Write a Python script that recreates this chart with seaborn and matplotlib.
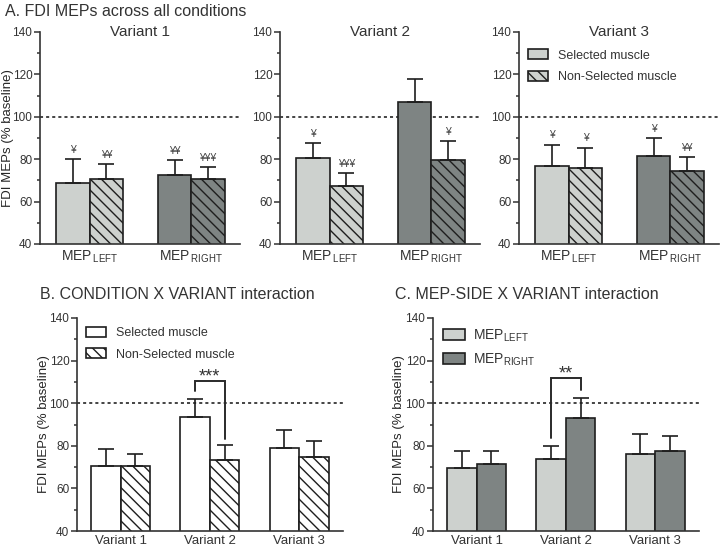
import numpy as np
import pandas as pd
import matplotlib
matplotlib.use('Agg')
import matplotlib.pyplot as plt
import seaborn as sns
from matplotlib.patches import Patch
from matplotlib.ticker import MultipleLocator

# --- data ---
variants = ['Variant 1', 'Variant 2', 'Variant 3']
sides = ['LEFT', 'RIGHT']
conditions = ['Selected muscle', 'Non-Selected muscle']

# panel A: per variant, [LEFT, RIGHT]
a_sel_mean = [[69.0, 72.7], [80.5, 107.0], [76.9, 81.4]]
a_sel_err = [[10.9, 7.0], [7.1, 10.9], [10.0, 8.4]]
a_non_mean = [[70.6, 70.6], [67.3, 79.6], [75.8, 74.2]]
a_non_err = [[7.2, 5.7], [6.0, 9.1], [9.7, 6.9]]
a_sel_marks = [['¥', '¥¥'], ['¥', ''], ['¥', '¥']]
a_non_marks = [['¥¥', '¥¥¥'], ['¥¥¥', '¥'], ['¥', '¥¥']]

# panel B: condition x variant
b_sel_mean = [70.5, 93.7, 78.8]
b_sel_err = [8.0, 8.5, 8.6]
b_non_mean = [70.4, 73.3, 74.7]
b_non_err = [5.6, 7.0, 7.4]
b_bracket = [105.5, 110.2, 83.0]   # left leg bottom, top, right leg bottom
b_star = '***'

# panel C: MEP side x variant
c_left_mean = [69.7, 73.8, 76.3]
c_left_err = [8.0, 6.2, 9.2]
c_right_mean = [71.4, 93.2, 77.5]
c_right_err = [6.1, 9.1, 7.2]
c_bracket = [83.5, 111.7, 106.2]
c_star = '**'

LIGHT = '#cdd1ce'
DARK = '#7e8483'
EDGE = '#1e1e1e'
TXT = '#333333'
HATCH = '\\\\\\'

sns.set_style('ticks')
plt.rcParams['font.family'] = ['Liberation Sans', 'DejaVu Sans']
plt.rcParams['mathtext.fontset'] = 'custom'
plt.rcParams['mathtext.rm'] = 'Liberation Sans'
plt.rcParams['hatch.linewidth'] = 1.0
plt.rcParams['axes.edgecolor'] = TXT
plt.rcParams['text.color'] = TXT
plt.rcParams['xtick.color'] = TXT
plt.rcParams['ytick.color'] = TXT

W, H = 722, 546
fig = plt.figure(figsize=(W / 100, H / 100), dpi=100)


def px_axes(x0, y0, x1, y1):
    return fig.add_axes([x0 / W, 1 - y1 / H, (x1 - x0) / W, (y1 - y0) / H])


def style_axes(ax):
    sns.despine(ax=ax)
    ax.set_ylim(40, 140)
    ax.set_yticks(range(40, 141, 20))
    ax.yaxis.set_minor_locator(MultipleLocator(10))
    ax.tick_params(axis='y', which='major', length=4, width=1.1, labelsize=8.5, pad=1.5)
    ax.tick_params(axis='y', which='minor', length=2.5, width=1.1)
    ax.tick_params(axis='x', length=0, labelsize=10, pad=3)
    for s in ('left', 'bottom'):
        ax.spines[s].set_linewidth(1.2)
    ax.axhline(100, color='#111111', ls=(0, (2, 2)), lw=1.1, zorder=1)
    ax.set_xlabel('')
    ax.set_ylabel('')


def upper_err(ax, bars, means, errs):
    xs = [b.get_x() + b.get_width() / 2 for b in bars]
    ax.errorbar(xs, means, yerr=[np.zeros(len(errs)), errs], fmt='none',
                ecolor=EDGE, elinewidth=1.2, capsize=6, capthick=1.2, zorder=3)
    return xs


LEG = dict(loc='upper left', frameon=False, fontsize=9, handlelength=1.6,
           handleheight=0.85, labelspacing=0.75, handletextpad=0.8, borderaxespad=0.3)
YLAB = 'FDI MEPs (% baseline)'

# ---------------- panel A ----------------
fig.text(5 / W, 1 - 16 / H, 'A. FDI MEPs across all conditions', fontsize=11.5,
         va='baseline', ha='left')
a_left = [40, 280, 519]
tick_names = ['MEP$_{\\,\\mathrm{LEFT}}$', 'MEP$_{\\,\\mathrm{RIGHT}}$']
for i, v in enumerate(variants):
    ax = px_axes(a_left[i], 32, a_left[i] + 200, 244)
    rows = []
    for j, s in enumerate(sides):
        rows.append({'side': s, 'cond': conditions[0], 'val': a_sel_mean[i][j]})
        rows.append({'side': s, 'cond': conditions[1], 'val': a_non_mean[i][j]})
    df = pd.DataFrame(rows)
    sns.barplot(data=df, x='side', y='val', hue='cond', hue_order=conditions,
                order=sides, width=0.66, errorbar=None, legend=False,
                edgecolor=EDGE, linewidth=1.2, ax=ax, zorder=2)
    bar_groups = list(ax.containers)
    fills = [LIGHT, DARK]
    for k, cont in enumerate(bar_groups):
        for j, bar in enumerate(cont):
            bar.set_facecolor(fills[j])
            bar.set_edgecolor(EDGE)
            if k == 1:
                bar.set_hatch(HATCH)
    for k, (means, errs, marks) in enumerate([(a_sel_mean[i], a_sel_err[i], a_sel_marks[i]),
                                              (a_non_mean[i], a_non_err[i], a_non_marks[i])]):
        xs = upper_err(ax, bar_groups[k], means, errs)
        for x, m, e, t in zip(xs, means, errs, marks):
            if t:
                ax.annotate(t, (x, m + e), xytext=(0, 3), textcoords='offset points',
                            ha='center', va='bottom', fontsize=7.5, color='#444444')
    style_axes(ax)
    ax.set_xlim(-0.49, 1.48)
    ax.set_xticks([0, 1])
    ax.set_xticklabels(tick_names)
    ax.text(0.5, 1.0, v, transform=ax.transAxes, ha='center', va='center', fontsize=11)
    if i == 0:
        ax.set_ylabel(YLAB, fontsize=9.5)
        ax.yaxis.set_label_coords(-0.13, 0.5)
    if i == 2:
        handles = [Patch(facecolor=LIGHT, edgecolor=EDGE, lw=1.2),
                   Patch(facecolor=LIGHT, edgecolor=EDGE, lw=1.2, hatch=HATCH)]
        ax.legend(handles, conditions, bbox_to_anchor=(0.0, 0.96), **LEG)


# ---------------- panels B & C ----------------
def interaction_panel(x0, x1, title, tx, names, means_list, errs_list, fills, hatches,
                      bracket, star, ylab_x):
    fig.text(tx / W, 1 - 299 / H, title, fontsize=11.5, va='baseline', ha='left')
    ax = px_axes(x0, 318, x1, 531)
    rows = []
    for n, means in zip(names, means_list):
        for v, m in zip(variants, means):
            rows.append({'variant': v, 'group': n, 'val': m})
    df = pd.DataFrame(rows)
    sns.barplot(data=df, x='variant', y='val', hue='group', hue_order=names,
                order=variants, width=0.66, errorbar=None, legend=False,
                edgecolor=EDGE, linewidth=1.2, ax=ax, zorder=2)
    bar_groups = list(ax.containers)
    centers = []
    for k, cont in enumerate(bar_groups):
        for bar in cont:
            bar.set_facecolor(fills[k])
            bar.set_edgecolor(EDGE)
            if hatches[k]:
                bar.set_hatch(hatches[k])
        centers.append(upper_err(ax, cont, means_list[k], errs_list[k]))
    style_axes(ax)
    ax.set_xlim(-0.487, 2.49)
    ax.tick_params(axis='x', labelsize=9.5)
    ax.set_ylabel(YLAB, fontsize=9.5)
    ax.yaxis.set_label_coords(ylab_x, 0.5)
    # significance bracket on Variant 2
    xl, xr = centers[0][1], centers[1][1]
    ax.plot([xl, xl, xr, xr], [bracket[0], bracket[1], bracket[1], bracket[2]],
            color='#2a2a2a', lw=1.4, zorder=4, solid_joinstyle='miter')
    ax.text((xl + xr) / 2, bracket[1] + 6.0, star, ha='center', va='top', fontsize=13)
    handles = [Patch(facecolor=fills[k], edgecolor=EDGE, lw=1.2, hatch=hatches[k])
               for k in range(2)]
    return ax, handles


axb, hb = interaction_panel(77, 343, 'B. CONDITION X VARIANT interaction', 40,
                            conditions, [b_sel_mean, b_non_mean], [b_sel_err, b_non_err],
                            ['white', 'white'], ['', HATCH], b_bracket, b_star, -0.102)
axb.legend(hb, conditions, bbox_to_anchor=(0.0, 1.0), **LEG)

side_names = ['MEP$_{\\mathrm{LEFT}}$', 'MEP$_{\\mathrm{RIGHT}}$']
axc, hc = interaction_panel(433, 699, 'C. MEP-SIDE X VARIANT interaction', 395,
                            side_names, [c_left_mean, c_right_mean], [c_left_err, c_right_err],
                            [LIGHT, DARK], ['', ''], c_bracket, c_star, -0.104)
leg_c = dict(LEG)
leg_c['fontsize'] = 10
leg_c['labelspacing'] = 0.55
leg_c['handletextpad'] = 0.6
axc.legend(hc, side_names, bbox_to_anchor=(0.0, 1.0), **leg_c)

fig.savefig('out.png', dpi=100)
